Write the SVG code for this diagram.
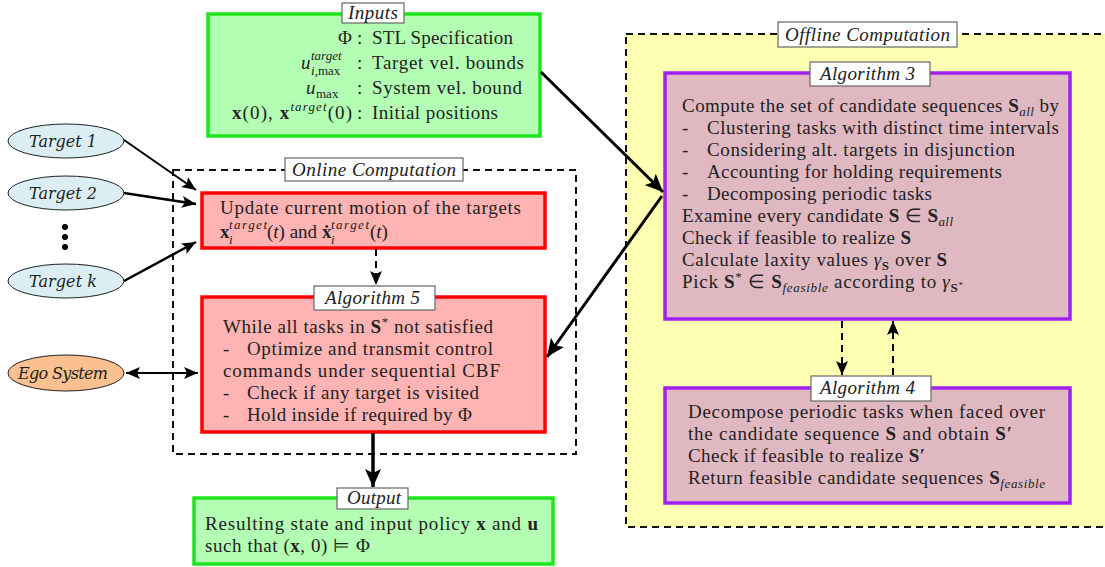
<svg xmlns="http://www.w3.org/2000/svg" width="1105" height="567" viewBox="0 0 1105 567">
<style>
text{font-family:"Liberation Serif","Times New Roman",serif;font-size:19px;fill:#222;}
.it{font-style:italic;}
.b{font-weight:bold;}
.sm{font-size:13px;}
.lbl{fill:#fff;stroke:#666;stroke-width:1.2;}
.lt{font-style:italic;text-anchor:middle;}
.green{fill:#b3ffb3;stroke:#1ee61e;stroke-width:3.5;}
.red{fill:#ffb3b3;stroke:#ff0000;stroke-width:3.5;}
.purple{fill:#e0b8c2;stroke:#a020f0;stroke-width:3.5;}
.tgt{fill:#dbeef4;stroke:#222;stroke-width:1;}
.ego{fill:#fac08f;stroke:#222;stroke-width:1;}
.et{font-family:"DejaVu Serif","Liberation Serif",serif;font-style:italic;font-size:16px;text-anchor:middle;}
.dash{fill:none;stroke:#111;stroke-width:2;stroke-dasharray:7,5;}
.c{fill:none;stroke:#000;}
</style>
<defs>
<marker id="ah" markerUnits="userSpaceOnUse" markerWidth="16" markerHeight="12" refX="14" refY="6" orient="auto">
<path d="M0,0 L14,6 L0,12 L3,6 z" fill="#000"/>
</marker>
<marker id="ahb" markerUnits="userSpaceOnUse" markerWidth="20" markerHeight="16" refX="18" refY="8" orient="auto">
<path d="M0,0 L18,8 L0,16 L4,8 z" fill="#000"/>
</marker>
<marker id="ahs" markerUnits="userSpaceOnUse" markerWidth="16" markerHeight="12" refX="14" refY="6" orient="auto-start-reverse">
<path d="M0,0 L14,6 L0,12 L3,6 z" fill="#000"/>
</marker>
</defs>

<!-- Offline region -->
<g id="offline">
<rect x="626" y="34" width="490" height="493" fill="#ffffb3" stroke="#111" stroke-width="2" stroke-dasharray="7,5"/>
<rect class="lbl" x="778" y="22" width="179" height="25"/>
<text class="lt" x="867.5" y="41" textLength="165">Offline Computation</text>
</g>

<!-- Online region -->
<g id="online">
<rect class="dash" x="173" y="170" width="403" height="284"/>
<rect class="lbl" x="285" y="158" width="178" height="23"/>
<text class="lt" x="374" y="176" textLength="164">Online Computation</text>
</g>

<!-- Inputs -->
<g id="inputs">
<rect class="green" x="208" y="14" width="332" height="122"/>
<rect class="lbl" x="342" y="3" width="62" height="20"/>
<text class="lt" x="373" y="19" textLength="50">Inputs</text>
<text x="352" y="44" text-anchor="end">Φ</text>
<text x="357" y="44">:</text>
<text x="372" y="44" textLength="141">STL Specification</text>
<text x="301" y="69" class="it">u</text>
<text x="311" y="60" class="it sm">target</text>
<text x="311" y="75" class="sm"><tspan class="it">i</tspan>,max</text>
<text x="357" y="69">:</text>
<text x="372" y="69" textLength="152">Target vel. bounds</text>
<text x="306" y="94" class="it">u</text>
<text x="316" y="98" class="sm">max</text>
<text x="357" y="94">:</text>
<text x="372" y="94" textLength="150">System vel. bound</text>
<text x="232" y="119" textLength="120"><tspan class="b">x</tspan>(0), <tspan class="b">x</tspan><tspan class="it sm" dy="-8">target</tspan><tspan dy="8">(0)</tspan></text>
<text x="357" y="119">:</text>
<text x="372" y="119" textLength="126">Initial positions</text>
</g>

<!-- Targets -->
<g id="target1">
<ellipse class="tgt" cx="66" cy="141" rx="58" ry="17"/>
<text class="et" x="63" y="147" textLength="68">Target 1</text>
</g>
<g id="target2">
<ellipse class="tgt" cx="66" cy="193" rx="58" ry="17"/>
<text class="et" x="63" y="199" textLength="68">Target 2</text>
</g>
<g id="dots">
<circle cx="65" cy="227" r="3" fill="#000"/>
<circle cx="65" cy="237" r="3" fill="#000"/>
<circle cx="65" cy="247" r="3" fill="#000"/>
</g>
<g id="targetk">
<ellipse class="tgt" cx="66" cy="281" rx="58" ry="17"/>
<text class="et" x="63" y="287" textLength="68">Target k</text>
</g>
<g id="ego">
<ellipse class="ego" cx="66" cy="373" rx="58" ry="18"/>
<text class="et" x="63" y="379" textLength="90">Ego System</text>
</g>

<!-- Update -->
<g id="update">
<rect class="red" x="202" y="193" width="343" height="55"/>
<text x="220" y="214" textLength="301">Update current motion of the targets</text>
<text x="220" y="238" class="b">x</text>
<text x="229" y="229" class="it sm" textLength="38">target</text>
<text x="229" y="244" class="it sm">i</text>
<text x="267" y="238">(<tspan class="it">t</tspan>) and</text>
<text x="322" y="238" class="b">ẋ</text>
<text x="331" y="229" class="it sm" textLength="38">target</text>
<text x="331" y="244" class="it sm">i</text>
<text x="370" y="238">(<tspan class="it">t</tspan>)</text>
</g>

<!-- Algorithm 5 -->
<g id="alg5">
<rect class="red" x="202" y="297" width="343" height="135"/>
<rect class="lbl" x="314" y="286" width="121" height="24"/>
<text class="lt" x="372.5" y="304" textLength="95">Algorithm 5</text>
<text x="223" y="333" textLength="270">While all tasks in <tspan class="b">S</tspan><tspan class="sm" dy="-7">*</tspan><tspan dy="7"> not satisfied</tspan></text>
<text x="223" y="355">-</text><text x="247" y="355" textLength="246">Optimize and transmit control</text>
<text x="223" y="377" textLength="277">commands under sequential CBF</text>
<text x="223" y="399">-</text><text x="247" y="399" textLength="232">Check if any target is visited</text>
<text x="223" y="421">-</text><text x="247" y="421" textLength="225">Hold inside if required by Φ</text>
</g>

<!-- Output -->
<g id="output">
<rect class="green" x="194" y="498" width="359" height="66"/>
<rect class="lbl" x="337" y="488" width="71" height="21"/>
<text class="lt" x="374" y="504" textLength="54">Output</text>
<text x="205" y="530" textLength="333">Resulting state and input policy <tspan class="b">x</tspan> and <tspan class="b">u</tspan></text>
<text x="205" y="552" textLength="165">such that (<tspan class="b">x</tspan>, 0) ⊨ Φ</text>
</g>

<!-- Algorithm 3 -->
<g id="alg3">
<rect class="purple" x="665" y="73" width="405" height="246"/>
<rect class="lbl" x="810" y="62" width="120" height="24"/>
<text class="lt" x="867.5" y="80" textLength="95">Algorithm 3</text>
<text x="682" y="112" textLength="377">Compute the set of candidate sequences <tspan class="b">S</tspan><tspan class="it sm" dy="4">all</tspan><tspan dy="-4"> by</tspan></text>
<text x="682" y="134">-</text><text x="707" y="134" textLength="352">Clustering tasks with distinct time intervals</text>
<text x="682" y="156">-</text><text x="707" y="156" textLength="308">Considering alt. targets in disjunction</text>
<text x="682" y="178">-</text><text x="707" y="178" textLength="295">Accounting for holding requirements</text>
<text x="682" y="200">-</text><text x="707" y="200" textLength="225">Decomposing periodic tasks</text>
<text x="682" y="222" textLength="271">Examine every candidate <tspan class="b">S</tspan> ∈ <tspan class="b">S</tspan><tspan class="it sm" dy="4">all</tspan></text>
<text x="682" y="244" textLength="229">Check if feasible to realize <tspan class="b">S</tspan></text>
<text x="682" y="266" textLength="265">Calculate laxity values <tspan class="it">γ</tspan><tspan class="b sm" dy="4">S</tspan><tspan dy="-4"> over </tspan><tspan class="b">S</tspan></text>
<text x="682" y="288" textLength="281">Pick <tspan class="b">S</tspan><tspan class="sm" dy="-7">*</tspan><tspan dy="7"> ∈ </tspan><tspan class="b">S</tspan><tspan class="it sm" dy="4">feasible</tspan><tspan dy="-4"> according to </tspan><tspan class="it">γ</tspan><tspan class="b sm" dy="4">S</tspan><tspan font-size="9" dy="-4">*</tspan></text>
</g>

<!-- Algorithm 4 -->
<g id="alg4">
<rect class="purple" x="665" y="388" width="405" height="115"/>
<rect class="lbl" x="811" y="376" width="120" height="25"/>
<text class="lt" x="867.5" y="394" textLength="95">Algorithm 4</text>
<text x="688" y="418" textLength="357">Decompose periodic tasks when faced over</text>
<text x="688" y="440" textLength="324">the candidate sequence <tspan class="b">S</tspan> and obtain <tspan class="b">S′</tspan></text>
<text x="688" y="462" textLength="237">Check if feasible to realize <tspan class="b">S′</tspan></text>
<text x="688" y="484" textLength="357">Return feasible candidate sequences <tspan class="b">S</tspan><tspan class="it sm" dy="4">feasible</tspan></text>
</g>

<!-- Connectors -->
<g id="connectors">
<line class="c" stroke-width="2" x1="124" y1="140" x2="196" y2="190" marker-end="url(#ah)"/>
<line class="c" stroke-width="2.5" x1="124" y1="193" x2="196" y2="204" marker-end="url(#ah)"/>
<line class="c" stroke-width="2.5" x1="124" y1="281" x2="196" y2="242" marker-end="url(#ah)"/>
<line class="c" stroke-width="2" x1="126" y1="373" x2="198" y2="373" marker-start="url(#ahs)" marker-end="url(#ahs)"/>
<line class="c" stroke-width="2" stroke-dasharray="7,5" x1="376" y1="249" x2="376" y2="285" marker-end="url(#ah)"/>
<line class="c" stroke-width="3" x1="541" y1="72" x2="663" y2="192" marker-end="url(#ahb)"/>
<line class="c" stroke-width="3" x1="662" y1="196" x2="547" y2="357" marker-end="url(#ahb)"/>
<line class="c" stroke-width="3.5" x1="373" y1="433" x2="373" y2="487" marker-end="url(#ahb)"/>
<line class="c" stroke-width="2" stroke-dasharray="7,5" x1="842" y1="321" x2="842" y2="375" marker-end="url(#ah)"/>
<line class="c" stroke-width="2" stroke-dasharray="7,5" x1="893" y1="375" x2="893" y2="321" marker-end="url(#ah)"/>
</g>
</svg>
